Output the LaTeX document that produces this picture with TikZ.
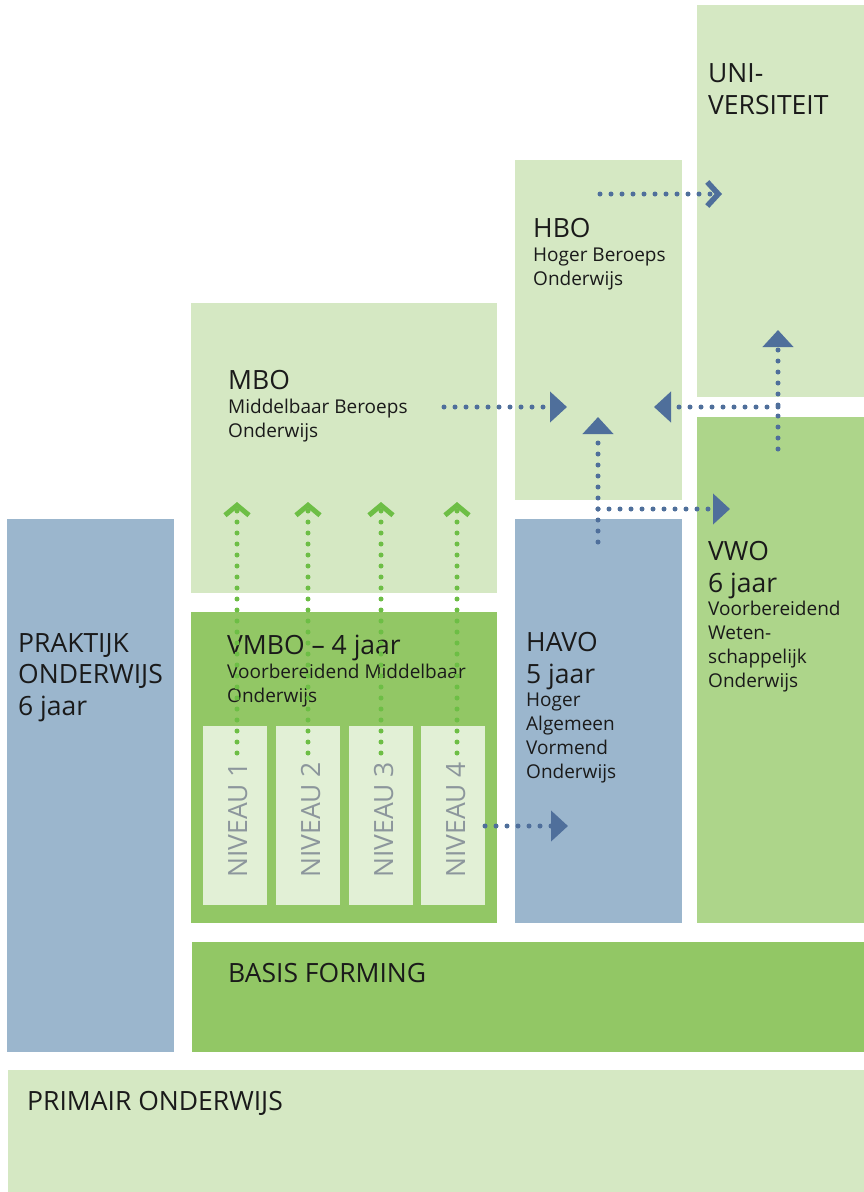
\documentclass[tikz,border=0pt]{standalone}
\usepackage{fontspec}
\setmainfont{Open Sans}
\usetikzlibrary{arrows.meta}

\definecolor{lichtgroen}{HTML}{D5E8C3}
\definecolor{middengroen}{HTML}{92C765}
\definecolor{vwogroen}{HTML}{ADD58A}
\definecolor{grijsblauw}{HTML}{9BB6CD}
\definecolor{niveaugroen}{HTML}{E2F0D6}
\definecolor{pijlblauw}{HTML}{4F6F9B}
\definecolor{pijlgroen}{HTML}{6DBE45}
\definecolor{niveautekst}{HTML}{8C969C}
\definecolor{tekst}{HTML}{1A1A1A}

\begin{document}
\begin{tikzpicture}[x=1pt,y=-1pt,
  kop/.style={anchor=base west, inner sep=0pt, text=tekst, align=left, font=\fontsize{26.5}{31.5}\selectfont},
  sub/.style={anchor=base west, inner sep=0pt, text=tekst, align=left, font=\fontsize{19}{24}\selectfont},
  niveau/.style={anchor=base west, inner sep=0pt, rotate=90, text=niveautekst, font=\fontsize{26.5}{31}\selectfont},
  stippel/.style={line width=5pt, line cap=round, dash pattern=on 0pt off 11pt},
  pijl/.style={stippel, draw=pijlblauw, -{Triangle[length=17pt,width=30pt]}},
  haakpijl/.style={stippel, draw=pijlblauw, -{Straight Barb[length=11pt,width=24pt,line width=5.5pt,line cap=butt,line join=miter]}},
  groenpijl/.style={stippel, draw=pijlgroen, -{Straight Barb[length=10pt,width=24pt,line width=5pt,line cap=butt,line join=miter]}}]

  \useasboundingbox (0,0) rectangle (864,1192);

  % blokken
  \fill[lichtgroen] (697,5) rectangle (864,397);
  \fill[lichtgroen] (515,160) rectangle (682,500);
  \fill[lichtgroen] (191,303) rectangle (497,593);
  \fill[grijsblauw] (7,519) rectangle (174,1052);
  \fill[middengroen] (191,612) rectangle (497,923);
  \fill[grijsblauw] (515,519) rectangle (682,923);
  \fill[vwogroen] (697,417) rectangle (864,923);
  \fill[middengroen] (192,942) rectangle (864,1052);
  \fill[lichtgroen] (8,1070) rectangle (864,1192);

  \foreach \x/\n in {203/1,276/2,349/3,421/4}{
    \fill[niveaugroen] (\x,726) rectangle ++(64,179);
    \node[niveau] (niv\n) at (\x+44,878) {NIVEAU \n};
  }

  % teksten (bij meerdere regels: basislijn van de laatste regel)
  \node[kop] (uni) at (708,114) {UNI-\\VERSITEIT};

  \node[kop] (hbo) at (533,237) {HBO};
  \node[sub] (hbosub) at (533,285) {Hoger Beroeps\\Onderwijs};

  \node[kop] (mbo) at (228,389) {MBO};
  \node[sub] (mbosub) at (228,437) {Middelbaar Beroeps\\Onderwijs};

  \node[kop] (vmbo) at (227,654) {VMBO -- 4 jaar};
  \node[sub] (vmbosub) at (227,702) {Voorbereidend Middelbaar\\Onderwijs};

  \node[kop] (prak) at (18,715) {PRAKTIJK\\ONDERWIJS\\6 jaar};

  \node[kop] (havo) at (526,683) {HAVO\\5 jaar};
  \node[sub] (havosub) at (526,778) {Hoger\\Algemeen\\Vormend\\Onderwijs};

  \node[kop] (vwo) at (708,592) {VWO\\6 jaar};
  \node[sub] (vwosub) at (708,687) {Voorbereidend\\Weten-\\schappelijk\\Onderwijs};

  \node[kop] (basis) at (228,982) {BASIS FORMING};
  \node[kop] (primair) at (27,1110) {PRIMAIR ONDERWIJS};

  % pijlen
  \coordinate (a1) at (600,194);  \coordinate (b1) at (722,194);
  \coordinate (a2) at (444,407);  \coordinate (b2) at (567,407);
  \coordinate (a3) at (778,407);  \coordinate (b3) at (654,407);
  \coordinate (a4) at (778,449);  \coordinate (b4) at (778,330);
  \coordinate (a5) at (598,542);  \coordinate (b5) at (598,417);
  \coordinate (a6) at (598,509);  \coordinate (b6) at (730,509);
  \coordinate (a7) at (485,826);  \coordinate (b7) at (568,826);

  \draw[haakpijl] (a1) -- (b1);
  \foreach \i in {2,...,7}
    \draw[pijl] (a\i) -- (b\i);

  \foreach \x [count=\i] in {237,308,381,457}{
    \coordinate (g\i) at (\x,753);
    \coordinate (h\i) at (\x,502);
    \draw[groenpijl] (g\i) -- (h\i);
  }

\end{tikzpicture}
\end{document}
